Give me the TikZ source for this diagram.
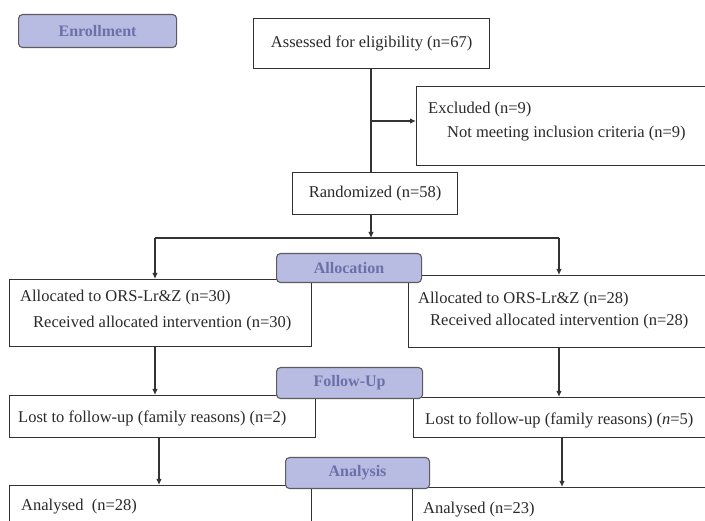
\documentclass[tikz,border=0pt]{standalone}
\usepackage{fontspec}
\setmainfont{Liberation Serif}
\usetikzlibrary{arrows.meta}
\definecolor{lbfill}{HTML}{B8BCE2}
\definecolor{lbtext}{HTML}{6A70A8}
\definecolor{lnc}{HTML}{333333}
\definecolor{txc}{HTML}{2A2A2A}
\newcommand{\lbltext}[1]{\raisebox{-1.5pt}{#1}}
\tikzset{
  box/.style={draw=lnc, line width=1.2pt, fill=white, inner sep=0pt, anchor=north west},
  lbl/.style={draw=lnc!80, line width=1.1pt, fill=lbfill, rounded corners=4pt, inner sep=0pt, anchor=north west, text=lbtext, font=\fontsize{16}{18}\selectfont\bfseries},
  txt/.style={text=txc, inner sep=0pt, anchor=west, font=\fontsize{16.5}{19}\selectfont},
  conn/.style={draw=lnc, line width=1.2pt},
  arr/.style={conn, -{Latex[length=6pt,width=5.5pt]}}
}
\begin{document}
\begin{tikzpicture}[x=1pt,y=-1pt]
\useasboundingbox (0,0) rectangle (705,521);
\clip (0,0) rectangle (705,521);
\fill[white] (0,0) rectangle (705,521);
% boxes
\node[box, minimum width=236pt, minimum height=50pt, text=txc, font=\fontsize{16.5}{19}\selectfont] (assess) at (253,18) {Assessed for eligibility (n=67)};
\node[box, minimum width=310pt, minimum height=79pt] (excl) at (416,86) {};
\node[box, minimum width=165pt, minimum height=42pt, text=txc, font=\fontsize{16.5}{19}\selectfont] (rand) at (292,172) {Randomized (n=58)};
\node[box, minimum width=302pt, minimum height=67pt] (allocL) at (9,279) {};
\node[box, minimum width=312pt, minimum height=72pt] (allocR) at (408,275) {};
\node[box, minimum width=306pt, minimum height=42pt] (lostL) at (9,395) {};
\node[box, minimum width=307pt, minimum height=40pt] (lostR) at (413,397) {};
\node[box, minimum width=302pt, minimum height=60pt] (anaL) at (9,485) {};
\node[box, minimum width=308pt, minimum height=58pt] (anaR) at (412,487) {};
% texts
\node[txt] (exclA) at (428,110) {Excluded (n=9)};
\node[txt] (exclB) at (447,134) {Not meeting inclusion criteria (n=9)};
\node[txt] (aLA) at (20,298) {Allocated to ORS-Lr\&Z (n=30)};
\node[txt] (aLB) at (33,324) {Received allocated intervention (n=30)};
\node[txt] (aRA) at (418,300) {Allocated to ORS-Lr\&Z (n=28)};
\node[txt] (aRB) at (430,322) {Received allocated intervention (n=28)};
\node[txt] (lLt) at (18,418) {Lost to follow-up (family reasons) (n=2)};
\node[txt] (lRt) at (425,420) {Lost to follow-up (family reasons) (\textit{n}=5)};
\node[txt] (nLt) at (21,507) {Analysed\ \ (n=28)};
\node[txt] (nRt) at (423,510) {Analysed (n=23)};
% connectors
\coordinate (split) at (371,121);
\coordinate (bl) at (155,238);
\coordinate (br) at (559,238);
\coordinate (cl2) at (159,437);
\coordinate (cr2) at (562,437);
\draw[conn] (assess.south -| split) -- (split |- rand.north);
\draw[arr] (split) -- (split -| excl.west);
\draw[arr] (split |- rand.south) -- (split |- bl);
\draw[conn] (bl) -- (br);
\draw[arr] (bl) -- (bl |- allocL.north);
\draw[arr] (br) -- (br |- allocR.north);
\draw[arr] (bl |- allocL.south) -- (bl |- lostL.north);
\draw[arr] (br |- allocR.south) -- (br |- lostR.north);
\draw[arr] (cl2) -- (cl2 |- anaL.north);
\draw[arr] (cr2) -- (cr2 |- anaR.north);
% stage labels
\node[lbl, minimum width=158pt, minimum height=33pt] (enr) at (18,14) {\lbltext{Enrollment}};
\node[lbl, minimum width=145pt, minimum height=29pt] (alloc) at (276,253) {\lbltext{Allocation}};
\node[lbl, minimum width=146pt, minimum height=31pt] (fup) at (276,367) {\lbltext{Follow-Up}};
\node[lbl, minimum width=144pt, minimum height=31pt] (ana) at (285,457) {\lbltext{Analysis}};
\end{tikzpicture}
\end{document}
